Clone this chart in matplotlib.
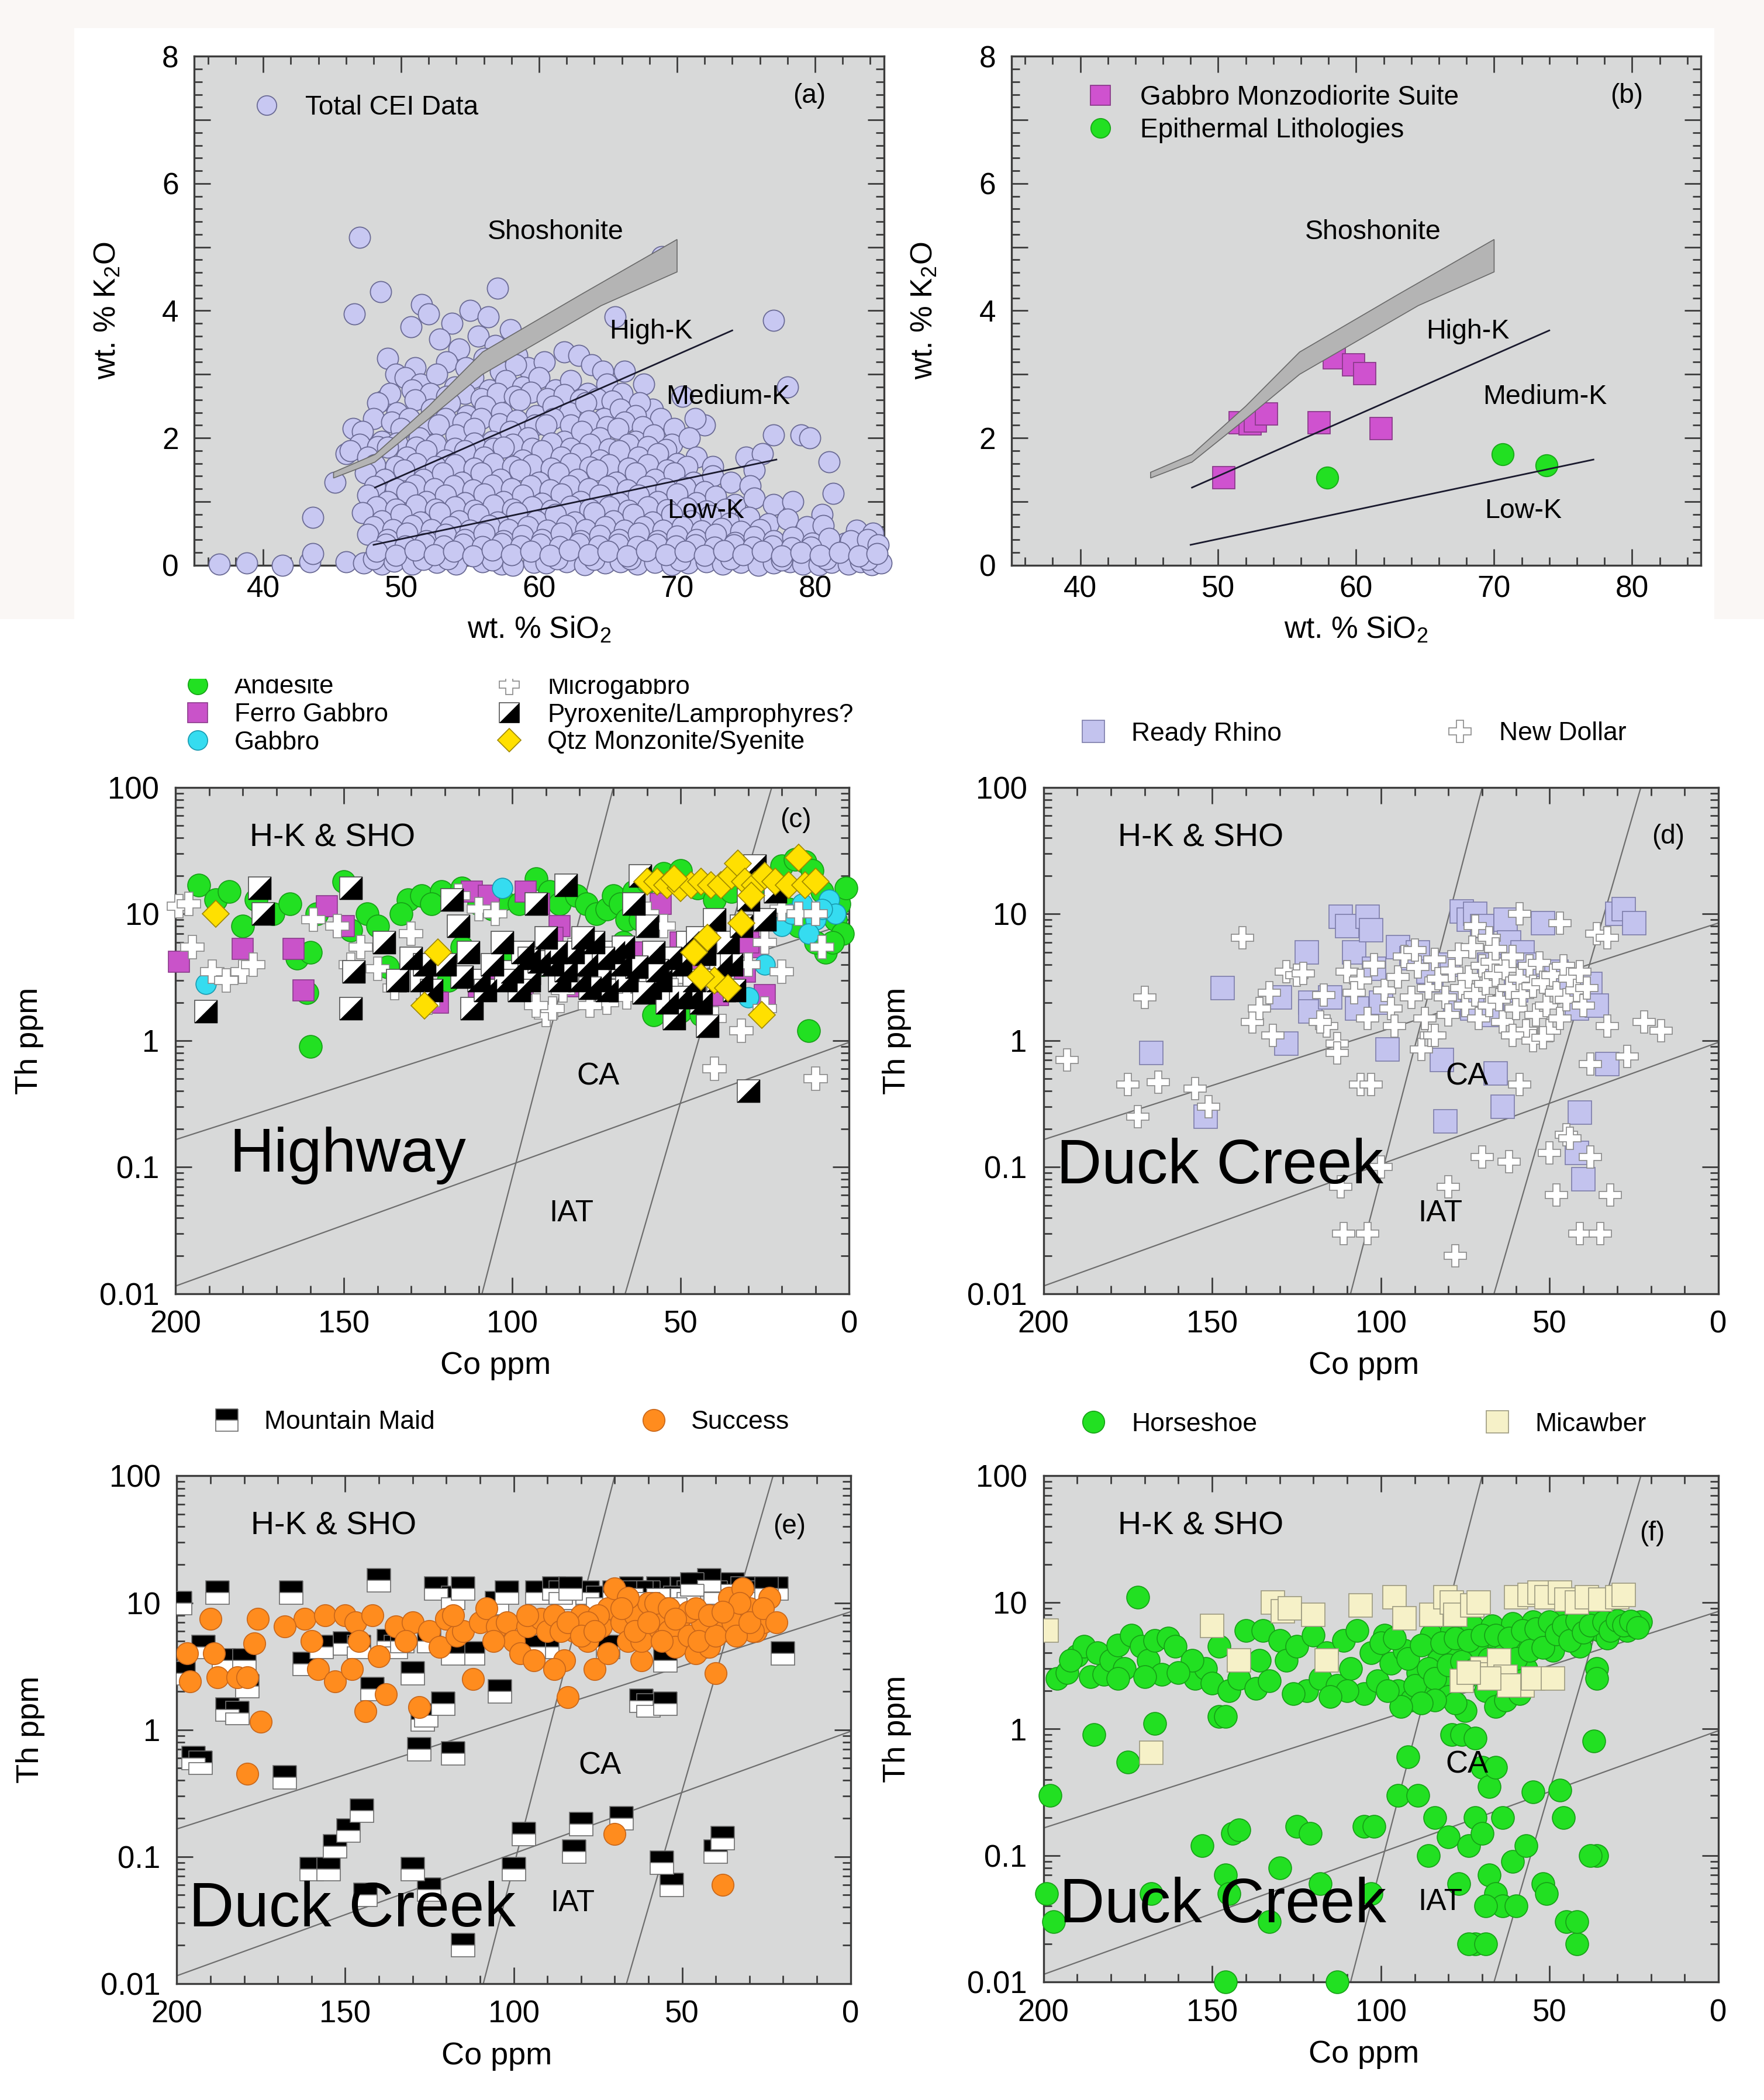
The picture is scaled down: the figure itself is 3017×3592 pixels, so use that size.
import numpy as np
import matplotlib
matplotlib.use('Agg')
import matplotlib.pyplot as plt
from matplotlib.lines import Line2D
from matplotlib.legend import Legend
from matplotlib.legend_handler import HandlerTuple
from matplotlib.patches import Rectangle, Polygon
from matplotlib.ticker import MultipleLocator, LogLocator, FuncFormatter, NullFormatter

plt.rcParams['font.family'] = ['Liberation Sans', 'DejaVu Sans']
plt.rcParams['mathtext.fontset'] = 'custom'
plt.rcParams['mathtext.rm'] = 'Liberation Sans'
plt.rcParams['mathtext.it'] = 'Liberation Sans:italic'

W, H, DPI = 3017, 3592, 100
SW, SH = 1317, 1568          # layout was measured on the shrunk preview

# ---------------- data: K2O vs SiO2 -----------------
cei_pts = [
    # bottom row
    (36.8, 0.02), (38.8, 0.03), (41.4, 0.0), (43.4, 0.05), (43.6, 0.18), (46.0, 0.05), (47.3, 0.03),
    (48.6, 0.02), (49.5, 0.06), (50.8, 0.02), (52.6, 0.04), (54.0, 0.02), (55.9, 0.05), (57.3, 0.02),
    (58.1, 0.0), (59.6, 0.04), (60.5, 0.03), (62.0, 0.05), (63.3, 0.01), (64.8, 0.03), (65.9, 0.05),
    (67.1, 0.02), (68.4, 0.04), (69.6, 0.01), (70.8, 0.03), (72.1, 0.05), (73.3, 0.02), (74.6, 0.04),
    (75.9, 0.0), (77.0, 0.03), (78.2, 0.05), (79.1, 0.02), (80.3, 0.01), (81.2, 0.04), (82.4, 0.02),
    (83.3, 0.05), (84.1, 0.01), (84.8, 0.03),
    (48.0, 0.1), (51.6, 0.09), (53.4, 0.1), (56.6, 0.08), (61.3, 0.1), (64.0, 0.09), (66.6, 0.1),
    (70.2, 0.08), (73.9, 0.1), (77.6, 0.08), (80.8, 0.1), (83.8, 0.09),
    # scattered
    (47.0, 5.15), (46.6, 3.95), (48.5, 4.3), (51.5, 4.1), (52.0, 3.95), (57.0, 4.35), (49.0, 3.25),
    (49.6, 3.0), (48.8, 2.6), (46.5, 2.15), (46.0, 1.75), (45.2, 1.3), (43.6, 0.75), (65.5, 3.9),
    (77.0, 3.85), (78.0, 2.8), (77.0, 2.05), (79.0, 2.05), (79.6, 2.0), (81.0, 1.62), (81.3, 1.13),
    (75.0, 1.7), (76.2, 1.75), (68.9, 4.85), (55.0, 4.0), (56.3, 3.9), (53.7, 3.8), (50.7, 3.75),
    (58.4, 3.3), (72.0, 2.2), (70.4, 2.65), (71.3, 2.3), (66.2, 3.05), (67.6, 2.85), (68.2, 2.45),
    (75.6, 1.5), (83.0, 0.55), (84.2, 0.5), (80.5, 0.8), (82.2, 0.35),
    # main cloud
    (52.8, 3.55), (54.2, 3.4), (55.6, 3.6), (56.8, 3.45), (57.9, 3.7), (53.3, 3.2), (56.0, 3.25),
    (61.8, 3.35), (62.9, 3.3), (59.2, 3.1), (60.4, 3.2), (63.8, 3.15), (64.6, 3.05),
    (51.0, 3.1), (54.7, 3.1), (57.2, 3.05), (58.3, 3.15),
    (50.3, 2.95), (51.4, 2.85), (52.6, 3.0), (53.9, 2.8), (55.2, 2.95), (56.4, 2.75), (57.6, 2.9),
    (58.8, 2.8), (60.0, 2.95), (61.2, 2.75), (62.3, 2.9), (63.5, 2.7), (64.9, 2.85), (66.0, 2.7),
    (67.3, 2.55),
    (49.2, 2.7), (50.8, 2.75), (52.1, 2.7), (53.3, 2.65), (54.6, 2.7), (55.8, 2.62), (57.0, 2.7),
    (58.2, 2.65), (59.4, 2.72), (60.6, 2.62), (61.8, 2.68), (63.0, 2.6), (64.2, 2.62), (65.3, 2.58),
    (48.3, 2.55), (49.7, 2.4), (51.0, 2.6), (52.2, 2.45), (53.5, 2.55), (54.8, 2.35), (56.1, 2.5),
    (57.3, 2.4), (58.6, 2.6), (59.8, 2.35), (61.0, 2.5), (62.2, 2.4), (63.4, 2.55), (64.7, 2.3),
    (65.9, 2.45), (67.0, 2.35), (68.8, 2.3), (69.8, 2.15),
    (48.0, 2.3), (49.3, 2.25), (50.6, 2.3), (51.9, 2.22), (53.2, 2.3), (54.5, 2.24), (55.8, 2.3),
    (57.1, 2.22), (58.4, 2.28), (59.7, 2.2), (61.0, 2.3), (62.3, 2.2), (63.6, 2.27), (64.9, 2.18),
    (66.2, 2.25), (67.5, 2.18),
    (47.2, 2.1), (48.6, 1.95), (50.0, 2.15), (51.3, 2.0), (52.7, 2.2), (54.0, 2.05), (55.3, 2.15),
    (56.6, 1.95), (57.9, 2.1), (59.2, 2.0), (60.5, 2.2), (61.8, 1.95), (63.1, 2.1), (64.4, 2.0),
    (65.7, 2.15), (67.0, 1.95), (68.3, 2.05), (69.6, 1.9), (70.9, 2.0),
    (47.0, 1.9), (48.3, 1.86), (49.7, 1.92), (51.1, 1.85), (52.5, 1.9), (53.9, 1.84), (55.3, 1.92),
    (56.7, 1.84), (58.1, 1.9), (59.5, 1.84), (60.9, 1.92), (62.3, 1.84), (63.7, 1.9), (65.1, 1.83),
    (66.5, 1.9), (67.9, 1.86), (69.2, 1.82),
    (46.3, 1.8), (47.6, 1.7), (49.0, 1.85), (50.4, 1.7), (51.8, 1.8), (53.2, 1.65), (54.6, 1.8),
    (56.0, 1.7), (57.4, 1.85), (58.8, 1.65), (60.2, 1.8), (61.6, 1.7), (63.0, 1.75), (64.4, 1.65),
    (65.8, 1.8), (67.2, 1.7), (68.6, 1.75), (70.0, 1.6), (71.4, 1.7), (72.6, 1.55),
    (48.1, 1.58), (49.6, 1.55), (51.1, 1.6), (52.5, 1.55), (53.9, 1.58), (55.3, 1.52), (56.7, 1.6),
    (58.1, 1.55), (59.5, 1.58), (60.9, 1.52), (62.3, 1.6), (63.7, 1.54), (65.1, 1.58), (66.5, 1.52),
    (67.9, 1.58), (69.3, 1.5), (70.7, 1.55),
    (47.4, 1.45), (48.8, 1.35), (50.2, 1.5), (51.6, 1.35), (53.0, 1.45), (54.4, 1.3), (55.8, 1.45),
    (57.2, 1.35), (58.6, 1.5), (60.0, 1.3), (61.4, 1.45), (62.8, 1.35), (64.2, 1.5), (65.6, 1.3),
    (67.0, 1.45), (68.4, 1.35), (69.8, 1.45), (71.2, 1.3), (72.6, 1.4), (73.9, 1.3), (75.3, 1.25),
    (48.1, 1.24), (49.6, 1.2), (51.0, 1.26), (52.4, 1.2), (53.8, 1.25), (55.2, 1.18), (56.6, 1.26),
    (58.0, 1.2), (59.4, 1.25), (60.8, 1.18), (62.2, 1.25), (63.6, 1.2), (65.0, 1.24), (66.4, 1.18),
    (67.8, 1.24), (69.2, 1.2), (70.6, 1.22), (72.0, 1.16),
    (47.6, 1.1), (49.0, 1.0), (50.4, 1.15), (51.8, 1.0), (53.2, 1.1), (54.6, 0.98), (56.0, 1.12),
    (57.4, 1.0), (58.8, 1.1), (60.2, 0.97), (61.6, 1.12), (63.0, 1.0), (64.4, 1.1), (65.8, 0.98),
    (67.2, 1.1), (68.6, 1.0), (70.0, 1.12), (71.4, 0.98), (72.8, 1.08), (74.2, 0.95), (75.6, 1.05),
    (77.0, 0.95), (78.4, 1.0),
    (48.2, 0.92), (49.6, 0.88), (51.1, 0.94), (52.5, 0.88), (53.9, 0.92), (55.3, 0.86), (56.7, 0.94),
    (58.1, 0.88), (59.5, 0.92), (60.9, 0.86), (62.3, 0.93), (63.7, 0.88), (65.1, 0.92), (66.5, 0.86),
    (67.9, 0.92), (69.3, 0.87), (70.7, 0.9), (72.1, 0.85), (73.5, 0.88),
    (47.2, 0.82), (48.6, 0.7), (50.0, 0.8), (51.4, 0.68), (52.8, 0.82), (54.2, 0.7), (55.6, 0.8),
    (57.0, 0.68), (58.4, 0.82), (59.8, 0.7), (61.2, 0.8), (62.6, 0.68), (64.0, 0.82), (65.4, 0.7),
    (66.8, 0.8), (68.2, 0.68), (69.6, 0.8), (71.0, 0.7), (72.4, 0.78), (73.8, 0.66), (75.2, 0.75),
    (76.6, 0.65), (78.0, 0.72), (79.4, 0.6), (80.6, 0.62),
    (48.0, 0.6), (49.4, 0.56), (50.8, 0.62), (52.2, 0.56), (53.6, 0.6), (55.0, 0.55), (56.4, 0.62),
    (57.8, 0.56), (59.2, 0.6), (60.6, 0.55), (62.0, 0.62), (63.4, 0.56), (64.8, 0.6), (66.2, 0.55),
    (67.6, 0.6), (69.0, 0.55), (70.4, 0.6), (71.8, 0.54), (73.2, 0.58), (74.6, 0.53), (76.0, 0.56),
    (47.6, 0.48), (49.0, 0.4), (50.4, 0.5), (51.8, 0.38), (53.2, 0.48), (54.6, 0.4), (56.0, 0.5),
    (57.4, 0.38), (58.8, 0.47), (60.2, 0.4), (61.6, 0.5), (63.0, 0.38), (64.4, 0.47), (65.8, 0.4),
    (67.2, 0.5), (68.6, 0.38), (70.0, 0.46), (71.4, 0.4), (72.8, 0.48), (74.2, 0.36), (75.6, 0.45),
    (77.0, 0.38), (78.4, 0.44), (79.8, 0.35), (81.0, 0.42), (82.6, 0.38), (83.8, 0.4), (84.6, 0.32),
    (48.9, 0.33), (50.3, 0.3), (51.7, 0.34), (53.1, 0.3), (54.5, 0.33), (55.9, 0.29), (57.3, 0.34),
    (58.7, 0.3), (60.1, 0.33), (61.5, 0.29), (62.9, 0.34), (64.3, 0.3), (65.7, 0.33), (67.1, 0.29),
    (68.5, 0.33), (69.9, 0.3), (71.3, 0.32), (72.7, 0.28), (74.1, 0.32), (75.5, 0.28), (76.9, 0.3),
    (78.3, 0.27), (79.7, 0.28),
    (48.2, 0.22), (49.6, 0.15), (51.0, 0.24), (52.4, 0.16), (53.8, 0.22), (55.2, 0.14), (56.6, 0.24),
    (58.0, 0.16), (59.4, 0.22), (60.8, 0.15), (62.2, 0.24), (63.6, 0.16), (65.0, 0.22), (66.4, 0.14),
    (67.8, 0.23), (69.2, 0.16), (70.6, 0.22), (72.0, 0.15), (73.4, 0.23), (74.8, 0.16), (76.2, 0.22),
    (77.6, 0.14), (79.0, 0.2), (80.4, 0.15), (81.8, 0.2), (83.2, 0.14), (84.5, 0.18),
]
gabbro_suite = [(50.4, 1.38), (51.6, 2.24), (52.3, 2.22), (52.7, 2.27), (53.5, 2.38), (57.3, 2.24),
                (58.4, 3.26), (59.8, 3.15), (60.6, 3.01), (61.8, 2.15)]
epithermal = [(57.9, 1.38), (70.6, 1.74), (73.8, 1.57)]

# boundary curves of the K2O-SiO2 diagram
shosh_sio2 = [45.1, 48.1, 52.0, 55.9, 63.0, 70.0, 70.0, 64.5, 55.9, 52.0, 48.1, 45.1]
shosh_k2o = [1.46, 1.74, 2.5, 3.35, 4.25, 5.12, 4.61, 4.08, 3.0, 2.3, 1.62, 1.37]
highk_sio2, highk_k2o = [48.1, 74.0], [1.22, 3.69]
lowk_sio2, lowk_k2o = [48.0, 77.2], [0.32, 1.66]

# ---------------- data: Th vs Co -----------------
andesite = [(193, 17), (188, 13), (184, 15), (180, 8), (176, 13), (171, 10), (166, 12), (164, 4.5),
            (161, 2.4), (160, 5), (158, 10), (160, 0.9), (150, 18), (148, 7.5), (143, 10), (140, 8),
            (137, 3.8), (131, 13), (127, 14), (121, 15), (115, 16), (110, 12), (106, 11), (103, 13),
            (98, 12), (93, 19), (89, 15), (86, 12), (81, 14), (78, 12), (75, 10), (72, 11), (70, 14),
            (68, 12), (66, 9), (64, 15), (60, 18), (55, 21), (50, 22), (45, 16), (40, 13), (35, 15),
            (31, 20), (25, 18), (20, 24), (16, 27), (13, 26), (11, 22), (8, 15), (6, 12), (4, 9),
            (2, 7), (3, 12), (1, 16), (7, 5), (12, 1.2), (50, 1.7), (44, 1.6), (58, 1.6), (91, 4),
            (100, 5), (115, 5.5), (119, 3), (67, 6), (62, 9), (18, 11), (15, 8), (10, 6), (5, 6),
            (133, 10), (124, 12)]
ferro_gabbro = [(199, 4.2), (180, 5.3), (165, 5.3), (162, 2.5), (155, 11.5), (150, 8), (112, 15),
                (107, 14), (96, 15), (92, 12), (86, 8), (88, 6.5), (97, 2.8), (105, 3), (122, 2),
                (60, 9), (56, 12), (50, 6), (46, 4), (39, 2.3), (35, 5), (28, 5.5), (25, 2.3),
                (31, 3.5), (38, 3), (64, 5), (70, 4), (110, 2.5), (83, 2.7), (30, 6)]
gabbro = [(191, 2.8), (103, 16), (20, 8), (17, 10), (14, 12), (10, 9), (6, 13), (4, 10), (25, 4),
          (30, 2.2), (12, 7), (8, 11)]
microgabbro = [(199, 11.5), (196, 12), (195, 5.5), (189, 3.5), (185, 3), (180, 3.5), (177, 4),
               (159, 9), (152, 8), (145, 5.5), (140, 3.7), (135, 2.6), (125, 2.0), (116, 14),
               (110, 11), (105, 10), (90, 1.6), (88, 1.8), (85, 2.5), (80, 6), (75, 3), (72, 2),
               (70, 2.5), (60, 10), (55, 8), (50, 3.5), (45, 2), (40, 1.5), (35, 2.5), (30, 4),
               (25, 6), (20, 11), (15, 10), (10, 10), (8, 5.5), (20, 3.5), (32, 1.2), (40, 0.6),
               (10, 0.5), (25, 1.8), (52, 2.5), (65, 4), (95, 3), (130, 7), (148, 4), (93, 1.9),
               (66, 2.2), (77, 1.9)]
pyroxenite = [(191, 1.7), (175, 16), (174, 10), (148, 16), (147, 3.5), (148, 1.8), (138, 6),
              (134, 3), (130, 4.5), (127, 3), (124, 2.5), (118, 13), (116, 8), (113, 5), (112, 1.8),
              (110, 3), (106, 4), (103, 6), (100, 3.5), (97, 5), (95, 3), (93, 12), (90, 6.5),
              (88, 4), (86, 3), (84, 17), (82, 5), (80, 3), (78, 4), (76, 6), (74, 3), (72, 2.5),
              (70, 5), (68, 4), (66, 3), (64, 12), (62, 20), (60, 8), (58, 5), (56, 3), (54, 2),
              (52, 1.5), (50, 4), (48, 6), (46, 3), (44, 2), (42, 1.3), (40, 9), (38, 4), (36, 6),
              (34, 2.5), (32, 8), (30, 13), (28, 24), (25, 9), (22, 15), (30, 0.4), (120, 4),
              (108, 2.5), (98, 2.5), (92, 4.2), (84, 3.6), (77, 2.6), (63, 3.8), (59, 2.6), (53, 4.5),
              (47, 2.2), (43, 4.8), (39, 3), (45, 6.5), (35, 4), (50, 2.2), (57, 3.6), (61, 2.4),
              (67, 5.5), (73, 4.5), (79, 6.5), (87, 5), (95, 4.5), (102, 3), (115, 3.2), (126, 4)]
qtz_monzonite = [(188, 10), (122, 5), (126, 1.9), (60, 18), (57, 18), (54, 17), (50, 16), (47, 17),
                 (44, 18), (41, 17), (38, 17), (35, 20), (33, 25), (31, 18), (28, 17), (25, 20),
                 (22, 18), (18, 17), (15, 28), (13, 17), (10, 18), (46, 5), (42, 6.5), (40, 3),
                 (36, 2.6), (32, 8.5), (26, 1.6), (44, 3.2), (52, 19), (29, 14)]

ready_rhino = [(168, 0.8), (152, 0.25), (147, 2.6), (130, 2.2), (128, 0.95), (122, 5), (121, 2),
               (121, 1.7), (115, 2.2), (112, 9.5), (110, 8), (108, 5), (104, 9.5), (103, 7.5),
               (102, 3.7), (98, 0.85), (95, 5.5), (91, 4.5), (89, 5), (85, 3), (82, 0.7), (81, 0.23),
               (80, 4), (78, 2), (76, 10.5), (74, 9), (72, 10), (70, 8), (68, 4), (66, 0.55),
               (64, 0.3), (63, 9), (62, 6), (58, 5), (56, 4), (52, 8.5), (48, 3.5), (45, 2.5),
               (42, 1.8), (41, 0.27), (42, 0.13), (40, 0.08), (38, 2.8), (36, 1.9), (33, 0.65),
               (30, 10), (28, 11), (25, 8.5), (60, 2.5), (86, 3.5), (100, 2), (107, 1.8), (73, 1.8),
               (67, 1.6)]
new_dollar = [(193, 0.7), (175, 0.45), (172, 0.25), (170, 2.2), (166, 0.47), (155, 0.42), (151, 0.3),
              (141, 6.5), (138, 1.4), (136, 1.8), (133, 2.4), (132, 1.1), (128, 3.5), (125, 3.3),
              (117, 2.3), (116, 1.3), (113, 0.95), (113, 0.8), (106, 0.45), (103, 0.45), (100, 0.1),
              (112, 0.07), (104, 0.03), (111, 0.03), (88, 0.85), (85, 1.1), (80, 0.07), (78, 0.02),
              (70, 0.12), (62, 0.11), (50, 0.13), (48, 0.06), (45, 0.18), (44, 0.17), (38, 0.12),
              (32, 0.06), (41, 0.03), (35, 0.03), (38, 0.65), (27, 0.75), (22, 1.4), (17, 1.2),
              (33, 1.3), (59, 0.45), (36, 7), (33, 6.5), (47, 8.5), (59, 10), (72, 8), (68, 6.5),
              (110, 3.5), (106, 3), (102, 4), (99, 2.5), (97, 1.8), (95, 3.2), (93, 4.6), (91, 2.2),
              (89, 3.8), (87, 1.5), (86, 2.6), (84, 4.4), (83, 3.1), (81, 2.2), (80, 1.6), (79, 3.6),
              (77, 4.8), (76, 2.6), (75, 1.9), (74, 3.2), (73, 5.5), (72, 2.3), (71, 1.5), (70, 3.9),
              (69, 2.8), (68, 1.9), (67, 4.2), (66, 3.3), (65, 2.1), (64, 1.4), (63, 3.7), (62, 2.6),
              (61, 4.6), (60, 1.8), (59, 3.1), (58, 2.3), (57, 1.2), (56, 3.9), (55, 2.7), (54, 1.6),
              (53, 4.1), (52, 2.9), (51, 1.9), (50, 1.2), (49, 3.3), (48, 2.4), (47, 1.5), (46, 3.9),
              (45, 2.1), (44, 3.1), (42, 2.5), (41, 3.5), (40, 1.9), (39, 2.6), (84, 1.1), (96, 1.3),
              (104, 1.5), (118, 1.4), (123, 3.4), (61, 1.1), (55, 1.0), (52, 1.05), (108, 2.4),
              (90, 5.2), (66, 5.3)]

mountain_maid = [(199, 10), (198, 2.8), (195, 0.6), (193, 0.55), (192, 4.5), (188, 12), (186, 3.5),
                 (185, 1.45), (182, 1.35), (180, 3.5), (179, 2.2), (168, 0.42), (166, 12), (162, 3.3),
                 (157, 4.5), (153, 0.12), (150, 4.8), (146, 4.5), (144, 0.05), (142, 2.1), (140, 15),
                 (137, 5), (135, 4.5), (133, 5), (130, 2.8), (128, 0.7), (127, 1.2), (126, 1.3),
                 (125, 5), (123, 13), (121, 1.6), (118, 11), (118, 0.65), (115, 13), (112, 4),
                 (105, 10), (104, 2), (100, 0.08), (97, 0.15), (93, 12), (90, 4.5), (88, 13),
                 (85, 11), (82, 0.11), (80, 0.18), (78, 12), (75, 11), (70, 12), (68, 0.2), (65, 13),
                 (62, 1.7), (60, 1.55), (57, 13), (56, 0.09), (55, 1.6), (53, 0.06), (50, 13),
                 (48, 12), (45, 14), (42, 15), (40, 0.11), (38, 0.14), (35, 14), (32, 13), (28, 13),
                 (22, 13), (20, 4), (55, 3.5), (115, 0.02), (160, 0.08), (155, 0.08), (145, 0.23),
                 (149, 0.16), (130, 0.08), (125, 0.055), (102, 12), (118, 4), (94, 4.5), (72, 4.5),
                 (60, 12), (52, 11), (47, 14), (40, 12), (30, 12), (25, 13), (86, 12), (83, 13),
                 (62, 12), (67, 12)]
success = [(197, 4), (196, 2.4), (190, 7.5), (189, 4), (188, 2.6), (182, 2.6), (179, 2.6),
           (177, 4.8), (176, 7.5), (175, 1.15), (179, 0.45), (162, 7.5), (160, 5), (158, 3),
           (156, 8), (153, 2.4), (150, 8), (148, 3), (147, 7), (144, 1.4), (142, 8), (140, 3.8),
           (138, 1.9), (135, 6.5), (130, 7), (128, 1.5), (125, 6), (122, 4.5), (120, 7.5),
           (117, 5.5), (115, 6), (112, 2.5), (110, 7), (108, 9), (105, 6.5), (102, 7), (100, 5),
           (98, 4), (96, 6.5), (94, 3.5), (92, 7.5), (90, 6), (88, 8), (85, 3.5), (84, 1.8), (82, 6),
           (80, 8), (78, 5), (76, 3), (74, 6.5), (72, 9), (70, 13), (68, 7), (66, 5), (64, 8),
           (62, 3.5), (60, 10), (58, 6.5), (56, 7), (54, 6), (52, 4.5), (50, 8), (48, 5.5), (46, 4),
           (44, 7), (42, 4.5), (40, 2.8), (38, 6), (36, 11), (34, 8), (32, 13), (30, 9), (28, 6),
           (26, 7), (24, 11), (70, 0.15), (38, 0.06), (62, 5), (58, 10), (66, 11), (72, 4), (75, 8),
           (88, 3), (45, 5), (40, 5.5), (35, 7), (33, 10), (29, 6), (54, 9), (64, 6), (78, 7),
           (86, 6), (48, 8.5), (168, 6.5), (146, 5), (132, 5), (118, 8), (106, 5), (96, 8),
           (84, 7), (80, 5.5), (76, 6), (68, 9), (60, 7), (56, 5), (52, 7.5), (46, 9), (42, 8),
           (38, 8.5), (34, 5.5), (30, 7), (26, 9), (22, 7)]

horseshoe = [(198, 0.3), (199, 0.05), (197, 0.03), (196, 2.5), (193, 2.8), (190, 3.8), (188, 4.5),
             (186, 2.6), (184, 4), (182, 2.7), (180, 3.5), (178, 4.6), (176, 3), (174, 5.5),
             (172, 11), (171, 4.5), (169, 3.5), (167, 5), (165, 2.7), (163, 5.2), (161, 4.5),
             (185, 0.9), (175, 0.55), (167, 1.1), (155, 2.5), (152, 3), (150, 2.3), (148, 1.25),
             (146, 1.25), (148, 4.5), (145, 2), (142, 2.5), (140, 6), (137, 2.1), (135, 6),
             (133, 2.4), (130, 5), (128, 3.5), (125, 4.5), (122, 2), (120, 5.5), (118, 2.5),
             (116, 4), (113, 2.2), (111, 5), (109, 3), (107, 6), (105, 1.9), (103, 4), (101, 2.4),
             (99, 5.5), (97, 3.3), (95, 2), (93, 4.2), (91, 1.7), (89, 2.8), (87, 2), (85, 5.5),
             (83, 3.5), (81, 2.2), (79, 6), (77, 4), (75, 2.5), (73, 6.5), (71, 4.2), (69, 2),
             (67, 6.5), (65, 4.5), (63, 2.8), (61, 6.8), (59, 4.8), (57, 3), (55, 7), (53, 5),
             (51, 6.2), (49, 4.2), (47, 7), (45, 5.5), (43, 6.5), (41, 4.5), (39, 6), (37, 7),
             (35, 6), (33, 5.2), (31, 6.5), (29, 7), (27, 6), (25, 6.5), (23, 7), (36, 3), (36, 2.5),
             (37, 0.8), (36, 0.1), (153, 0.12), (144, 0.15), (142, 0.16), (146, 0.07), (130, 0.08),
             (133, 0.03), (125, 0.17), (121, 0.15), (118, 0.06), (113, 0.01), (146, 0.01),
             (145, 0.05), (168, 0.05), (105, 0.17), (102, 0.17), (103, 0.05), (95, 0.3), (92, 0.6),
             (89, 0.3), (84, 0.2), (80, 0.14), (79, 0.9), (76, 0.9), (72, 0.85), (70, 0.5),
             (68, 0.35), (66, 0.5), (64, 0.2), (74, 0.12), (72, 0.2), (70, 0.15), (68, 0.07),
             (66, 0.05), (64, 0.04), (69, 0.04), (72, 0.02), (74, 0.02), (69, 0.02), (60, 0.04),
             (61, 0.09), (57, 0.12), (55, 0.32), (52, 0.06), (51, 0.05), (47, 0.33), (46, 0.2),
             (45, 0.03), (42, 0.02), (42, 0.03), (38, 0.1), (75, 1.4), (66, 1.5), (63, 1.7),
             (59, 1.9), (77, 0.06), (86, 0.1),
             (100, 4.8), (96, 5.2), (92, 3.6), (90, 2.2), (88, 4.6), (86, 3), (84, 2.5), (82, 4.8),
             (80, 3.2), (78, 5.2), (76, 3.4), (74, 5), (72, 3), (70, 5.5), (68, 3.6), (66, 5.5),
             (64, 3.8), (62, 5.2), (60, 3.6), (58, 6), (56, 4.2), (54, 6.2), (52, 4.4), (50, 7),
             (48, 5.6), (46, 6.5), (44, 5), (42, 7.2), (40, 5.8), (38, 6.6), (34, 7), (32, 6),
             (30, 7.2), (28, 6.6), (26, 7.1), (24, 6.3), (80, 1.8), (78, 1.6), (84, 1.7), (88, 1.6),
             (94, 1.5), (98, 2), (110, 2.0), (115, 1.8), (126, 1.9), (136, 3.5), (156, 3.5),
             (160, 2.8), (170, 2.6), (178, 2.5), (192, 3.5)]
micawber = [(199, 6), (168, 0.65), (150, 6.5), (142, 3.5), (132, 10), (129, 8.5), (127, 9),
            (120, 8), (116, 3.5), (106, 9.5), (96, 11), (93, 7.5), (85, 8), (81, 11), (79, 10),
            (78, 8), (76, 2.4), (73, 9.5), (71, 10), (70, 3), (67, 2.7), (65, 3.5), (63, 2.6),
            (60, 11), (58, 2.2), (56, 11.5), (55, 2.5), (53, 12), (51, 11), (49, 2.5), (47, 12),
            (45, 10.5), (42, 10), (39, 11), (35, 10.5), (30, 11), (28, 11.5), (62, 2.2), (68, 2.5),
            (74, 2.8)]

# boundary lines of the Th-Co diagram (Co ends, Th ends)
bound_co = [[200, 0], [200, 0], [109, 70], [66.5, 23]]
bound_th = [[0.165, 8.5], [0.0115, 0.97], [0.01, 100], [0.01, 100]]

AX_BG = '#d8d9d9'
SPINE = '#3c3c3c'
TRI = [(-1, -1), (1, -1), (1, 1), (-1, -1)]

fig = plt.figure(figsize=(W / DPI, H / DPI), dpi=DPI, facecolor='white')


def box(x0, y0, x1, y1):
    return [x0 / SW, 1 - y1 / SH, (x1 - x0) / SW, (y1 - y0) / SH]


def xy(pts):
    a = np.array(pts, dtype=float)
    return a[:, 0], a[:, 1]


def frame(ax, labelsize, xpad, ypad):
    ax.set_facecolor(AX_BG)
    for s in ax.spines.values():
        s.set_linewidth(2.4)
        s.set_color(SPINE)
    ax.tick_params(which='both', direction='in', top=True, right=True, color=SPINE,
                   labelsize=labelsize)
    ax.tick_params(which='major', length=20, width=2)
    ax.tick_params(which='minor', length=10, width=2)
    ax.tick_params(axis='y', pad=ypad)
    ax.tick_params(axis='x', pad=xpad)


def key(parent, handle, label, xm, ym, xt, fs=31):
    # xm, ym marker centre, xt text start, in full-size pixels
    hl = 1.0
    em = fs * DPI / 72
    lg = Legend(parent, [handle], [label], loc='center left',
                bbox_to_anchor=((xm - hl * em / 2) / W, 1 - ym / H),
                bbox_transform=fig.transFigure, frameon=False, handlelength=hl,
                handletextpad=(xt - xm - hl * em / 2) / em, borderpad=0, borderaxespad=0,
                fontsize=fs, handler_map={tuple: HandlerTuple(ndivide=1)})
    parent.add_artist(lg)


def k2o_axes(rect, tag):
    ax = fig.add_axes(rect)
    frame(ax, 37, 12, 19)
    ax.set_zorder(7)
    ax.set_xlim(35, 85)
    ax.set_ylim(0, 8)
    ax.xaxis.set_major_locator(MultipleLocator(10))
    ax.xaxis.set_minor_locator(MultipleLocator(2))
    ax.yaxis.set_major_locator(MultipleLocator(1))
    ax.yaxis.set_minor_locator(MultipleLocator(0.2))
    ax.yaxis.set_major_formatter(FuncFormatter(lambda v, p: '%d' % v if int(round(v)) % 2 == 0 else ''))
    ax.set_xlabel('wt. % SiO$_2$', fontsize=37, va='center')
    ax.xaxis.set_label_coords(0.5, -0.127)
    ax.set_ylabel('wt. % K$_2$O', fontsize=37, va='center')
    ax.yaxis.set_label_coords(-0.126, 0.5)
    ax.add_patch(Polygon(np.column_stack([shosh_sio2, shosh_k2o]), closed=True,
                         facecolor='#b4b4b4', edgecolor='#6a6a6a', lw=1.2, zorder=5))
    ax.plot(highk_sio2, highk_k2o, color='#1a1a2e', lw=2.0, zorder=5)
    ax.plot(lowk_sio2, lowk_k2o, color='#1a1a2e', lw=2.0, zorder=5)
    for s, x, y in [('Shoshonite', 61.2, 5.24), ('High-K', 68.1, 3.67),
                    ('Medium-K', 73.7, 2.64), ('Low-K', 72.1, 0.85)]:
        ax.text(x, y, s, fontsize=33.5, ha='center', va='center', zorder=6)
    ax.text(79.6, 7.38, tag, fontsize=33, ha='center', va='center', zorder=6)
    return ax


def th_axes(rect, tag, xlab_y, big, big_xy):
    ax = fig.add_axes(rect)
    frame(ax, 38, 20, 20)
    ax.set_xlim(200, 0)
    ax.set_yscale('log')
    ax.set_ylim(0.01, 100)
    ax.xaxis.set_major_locator(MultipleLocator(50))
    ax.xaxis.set_minor_locator(MultipleLocator(10))
    ax.yaxis.set_major_locator(LogLocator(base=10, numticks=10))
    ax.yaxis.set_minor_locator(LogLocator(base=10, subs=np.arange(2, 10), numticks=20))
    ax.yaxis.set_major_formatter(FuncFormatter(lambda v, p: '%g' % v))
    ax.yaxis.set_minor_formatter(NullFormatter())
    ax.set_xlabel('Co ppm', fontsize=39, va='center')
    ax.xaxis.set_label_coords(0.475, xlab_y)
    ax.set_ylabel('Th ppm', fontsize=39, va='center')
    ax.yaxis.set_label_coords(-0.217, 0.5)
    for cx, ty in zip(bound_co, bound_th):
        ax.plot(cx, ty, color='#6e6e6e', lw=1.6, zorder=1)
    ax.text(178, 40, 'H-K & SHO', fontsize=40, ha='left', va='center', zorder=6)
    ax.text(74.5, 0.52, 'CA', fontsize=38, ha='center', va='center', zorder=6)
    ax.text(82.5, 0.043, 'IAT', fontsize=37, ha='center', va='center', zorder=6)
    ax.text(tag[1], tag[2], tag[0], fontsize=33, ha='center', va='center', zorder=6)
    ax.text(big_xy[0], big_xy[1], big, fontsize=big_xy[2], ha='left', va='center', zorder=6)
    return ax


# page background of the upper image
fig.add_artist(Rectangle((0, 1 - 1161 / H), 1, 1161 / H, transform=fig.transFigure,
                         facecolor='white', edgecolor='none', zorder=6))
for (x0, y0, x1, y1) in [(0, 0, W, 48), (0, 0, 127, 1059), (2932, 0, W, 1059)]:
    fig.add_artist(Rectangle((x0 / W, 1 - y1 / H), (x1 - x0) / W, (y1 - y0) / H,
                             transform=fig.transFigure, facecolor='#faf7f5',
                             edgecolor='none', zorder=6))

# ---- (a) ----
ax_a = k2o_axes(box(145, 42, 660, 422), '(a)')
x, y = xy(cei_pts)
ax_a.plot(x, y, 'o', ms=26, mfc='#c8c8f2', mec='#6b6b95', mew=1.3, ls='none', clip_on=False, zorder=3)
key(ax_a, Line2D([], [], marker='o', ms=24, mfc='#c8c8f2', mec='#6b6b95', mew=1.3, ls='none'),
    'Total CEI Data', 456, 184, 522, fs=33)

# ---- (b) ----
ax_b = k2o_axes(box(755, 42, 1270, 422), '(b)')
x, y = xy(gabbro_suite)
ax_b.plot(x, y, 's', ms=28, mfc='#cf52cf', mec='#8b3a8b', mew=1.3, ls='none', zorder=3)
x, y = xy(epithermal)
ax_b.plot(x, y, 'o', ms=27, mfc='#22e022', mec='#18a818', mew=1.3, ls='none', zorder=3)
key(ax_b, Line2D([], [], marker='s', ms=24, mfc='#cf52cf', mec='#8b3a8b', mew=1.3, ls='none'),
    'Gabbro Monzodiorite Suite', 1882, 167, 1950, fs=33)
key(ax_b, Line2D([], [], marker='o', ms=24, mfc='#22e022', mec='#18a818', mew=1.3, ls='none'),
    'Epithermal Lithologies', 1882, 223, 1950, fs=33)

# ---- (c) ----
ax_c = th_axes(box(131, 588, 634, 966), ('(c)', 15.8, 55), -0.142, 'Highway', (184, 0.124, 76))
st_and = dict(marker='o', ms=28, mfc='#22e022', mec='#16a016', mew=1.2, ls='none')
st_fer = dict(marker='s', ms=26, mfc='#c953c9', mec='#8b3a8b', mew=1.2, ls='none')
st_gab = dict(marker='o', ms=25, mfc='#35dcf0', mec='#1a9ab0', mew=1.2, ls='none')
st_mic = dict(marker='P', ms=29, mfc='white', mec='#8a8a8a', mew=1.2, ls='none')
st_pyw = dict(marker='s', ms=28, mfc='white', mec='#555555', mew=1.2, ls='none')
st_pyb = dict(marker=TRI, ms=28, mfc='black', mec='black', mew=0.5, ls='none')
st_qtz = dict(marker='D', ms=23, mfc='#ffe000', mec='#a08800', mew=1.2, ls='none')
for pts, st in [(andesite, st_and), (ferro_gabbro, st_fer), (gabbro, st_gab), (microgabbro, st_mic)]:
    x, y = xy(pts)
    ax_c.plot(x, y, clip_on=False, zorder=3, **st)
x, y = xy(pyroxenite)
ax_c.plot(x, y, zorder=3, **st_pyw)
ax_c.plot(x, y, zorder=3, **st_pyb)
x, y = xy(qtz_monzonite)
ax_c.plot(x, y, zorder=3, **st_qtz)


def lh(st, ms=24):
    d = dict(st)
    d['ms'] = ms
    return Line2D([], [], **d)


for h, lab, xm, ym, xt in [(lh(st_and), 'Andesite', 338, 1175, 401),
                           (lh(st_fer), 'Ferro Gabbro', 338, 1223, 401),
                           (lh(st_gab), 'Gabbro', 338, 1270, 401),
                           (lh(st_mic), 'Microgabbro', 871, 1175, 936),
                           ((lh(st_pyw), lh(st_pyb)), 'Pyroxenite/Lamprophyres?', 871, 1223, 936),
                           (lh(st_qtz, 20), 'Qtz Monzonite/Syenite', 871, 1270, 936)]:
    key(fig, h, lab, xm, ym, xt, fs=31.5)

# ---- (d) ----
ax_d = th_axes(box(779, 588, 1283, 966), ('(d)', 14.9, 41), -0.142, 'Duck Creek', (196.1, 0.101, 77))
st_rr = dict(marker='s', ms=29, mfc='#c3c3ee', mec='#7d7daa', mew=1.2, ls='none')
st_nd = dict(marker='P', ms=28, mfc='white', mec='#8a8a8a', mew=1.2, ls='none')
x, y = xy(ready_rhino)
ax_d.plot(x, y, zorder=3, **st_rr)
x, y = xy(new_dollar)
ax_d.plot(x, y, zorder=3, **st_nd)
key(fig, lh(st_rr, 27), 'Ready Rhino', 1870, 1255, 1935, fs=32)
key(fig, lh(st_nd, 27), 'New Dollar', 2497, 1255, 2564, fs=32)

# ---- (e) ----
ax_e = th_axes(box(132, 1102, 635, 1481), ('(e)', 18.2, 40), -0.143, 'Duck Creek', (196.4, 0.038, 77))
st_mm = dict(marker='s', ms=29, fillstyle='top', mfc='black', mfcalt='white', mec='#6e6e6e',
             mew=1.2, ls='none')
st_su = dict(marker='o', ms=27, mfc='#ff8c1e', mec='#c8661a', mew=1.2, ls='none')
x, y = xy(mountain_maid)
ax_e.plot(x, y, zorder=3, **st_mm)
x, y = xy(success)
ax_e.plot(x, y, zorder=3, **st_su)
key(fig, lh(st_mm, 27), 'Mountain Maid', 388, 2433, 452, fs=32)
key(fig, lh(st_su, 27), 'Success', 1118, 2433, 1182, fs=32)

# ---- (f) ----
ax_f = th_axes(box(779, 1102, 1283, 1480), ('(f)', 19.6, 35), -0.143, 'Duck Creek', (195.3, 0.040, 77))
st_hs = dict(marker='o', ms=28, mfc='#22e022', mec='#16a016', mew=1.2, ls='none')
st_mi = dict(marker='s', ms=29, mfc='#f6f1c8', mec='#9c9a80', mew=1.2, ls='none')
x, y = xy(horseshoe)
ax_f.plot(x, y, clip_on=False, zorder=3, **st_hs)
x, y = xy(micawber)
ax_f.plot(x, y, zorder=3, **st_mi)
key(fig, lh(st_hs, 27), 'Horseshoe', 1870, 2436, 1935, fs=32)
key(fig, lh(st_mi, 27), 'Micawber', 2561, 2436, 2625, fs=32)

fig.savefig('out.png', dpi=DPI, facecolor='white')
plt.close(fig)
